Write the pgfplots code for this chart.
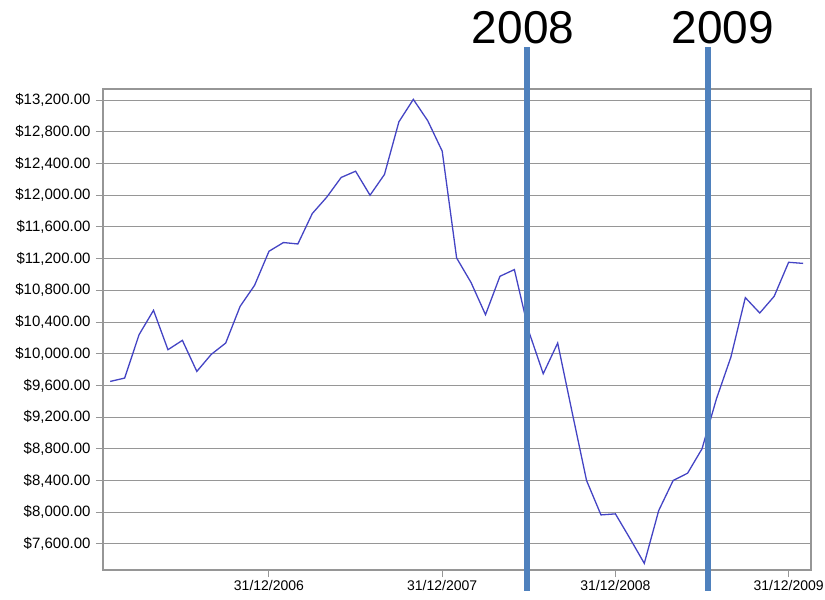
\documentclass[border=0pt]{standalone}
\usepackage{pgfplots}
\pgfplotsset{compat=1.18}
\usepackage{fontspec}
\setmainfont{Liberation Sans}
\definecolor{serie}{RGB}{68,68,196}
\definecolor{marcador}{RGB}{79,129,189}
\definecolor{rejilla}{RGB}{150,150,150}
\begin{document}
\begin{tikzpicture}
\begin{axis}[
  scale only axis, width=708pt, height=481pt,
  at={(0pt,0pt)}, anchor=south west,
  xmin=0.5, xmax=49.55, ymin=7272, ymax=13340,
  clip=false,
  xtick={12,24,36,48},
  xticklabels={31/12/2006,31/12/2007,31/12/2008,31/12/2009},
  ytick={7600,8000,...,13200},
  scaled y ticks=false,
  yticklabel={\$\pgfmathprintnumber[fixed,fixed zerofill,precision=2,1000 sep={,}]{\tick}},
  /pgf/number format/assume math mode=true,
  tick label style={font=\fontsize{14}{16}\selectfont},
  yticklabel style={font=\fontsize{15}{17}\selectfont, xshift=-2pt},
  ymajorgrids,
  major grid style={rejilla, line width=1pt},
  axis line style={rejilla, line width=1.2pt},
  tick style={rejilla, line width=1pt},
  tick align=outside, major tick length=7pt,
  xtick pos=bottom, ytick pos=left,
]
\addplot[serie, line width=1.3pt, mark=none] coordinates {
 (1,9651) (2,9693) (3,10241) (4,10548) (5,10051) (6,10169) (7,9777) (8,9992)
 (9,10135) (10,10598) (11,10863) (12,11293) (13,11403) (14,11385) (15,11769)
 (16,11975) (17,12224) (18,12303) (19,12000) (20,12262) (21,12926) (22,13209)
 (23,12939) (24,12556) (25,11208) (26,10898) (27,10493) (28,10977) (29,11062)
 (30,10282) (31,9748) (32,10135) (33,9263) (34,8401) (35,7967) (36,7980)
 (37,7672) (38,7356) (39,8022) (40,8401) (41,8493) (42,8801) (43,9432)
 (44,9958) (45,10708) (46,10514) (47,10725) (48,11154) (49,11140)
};
% marcas de año
\draw[marcador, line width=5.5pt] (axis cs:29.88,7011) -- (axis cs:29.88,13869);
\draw[marcador, line width=5.5pt] (axis cs:42.41,7011) -- (axis cs:42.41,13869);
\node[font=\fontsize{46}{50}\selectfont] at (axis cs:29.6,14109) {2008};
\node[font=\fontsize{46}{50}\selectfont] at (axis cs:43.45,14109) {2009};
\end{axis}
\pgfresetboundingbox
\path (-103pt,-30pt) rectangle (722pt,570pt);
\end{tikzpicture}
\end{document}
